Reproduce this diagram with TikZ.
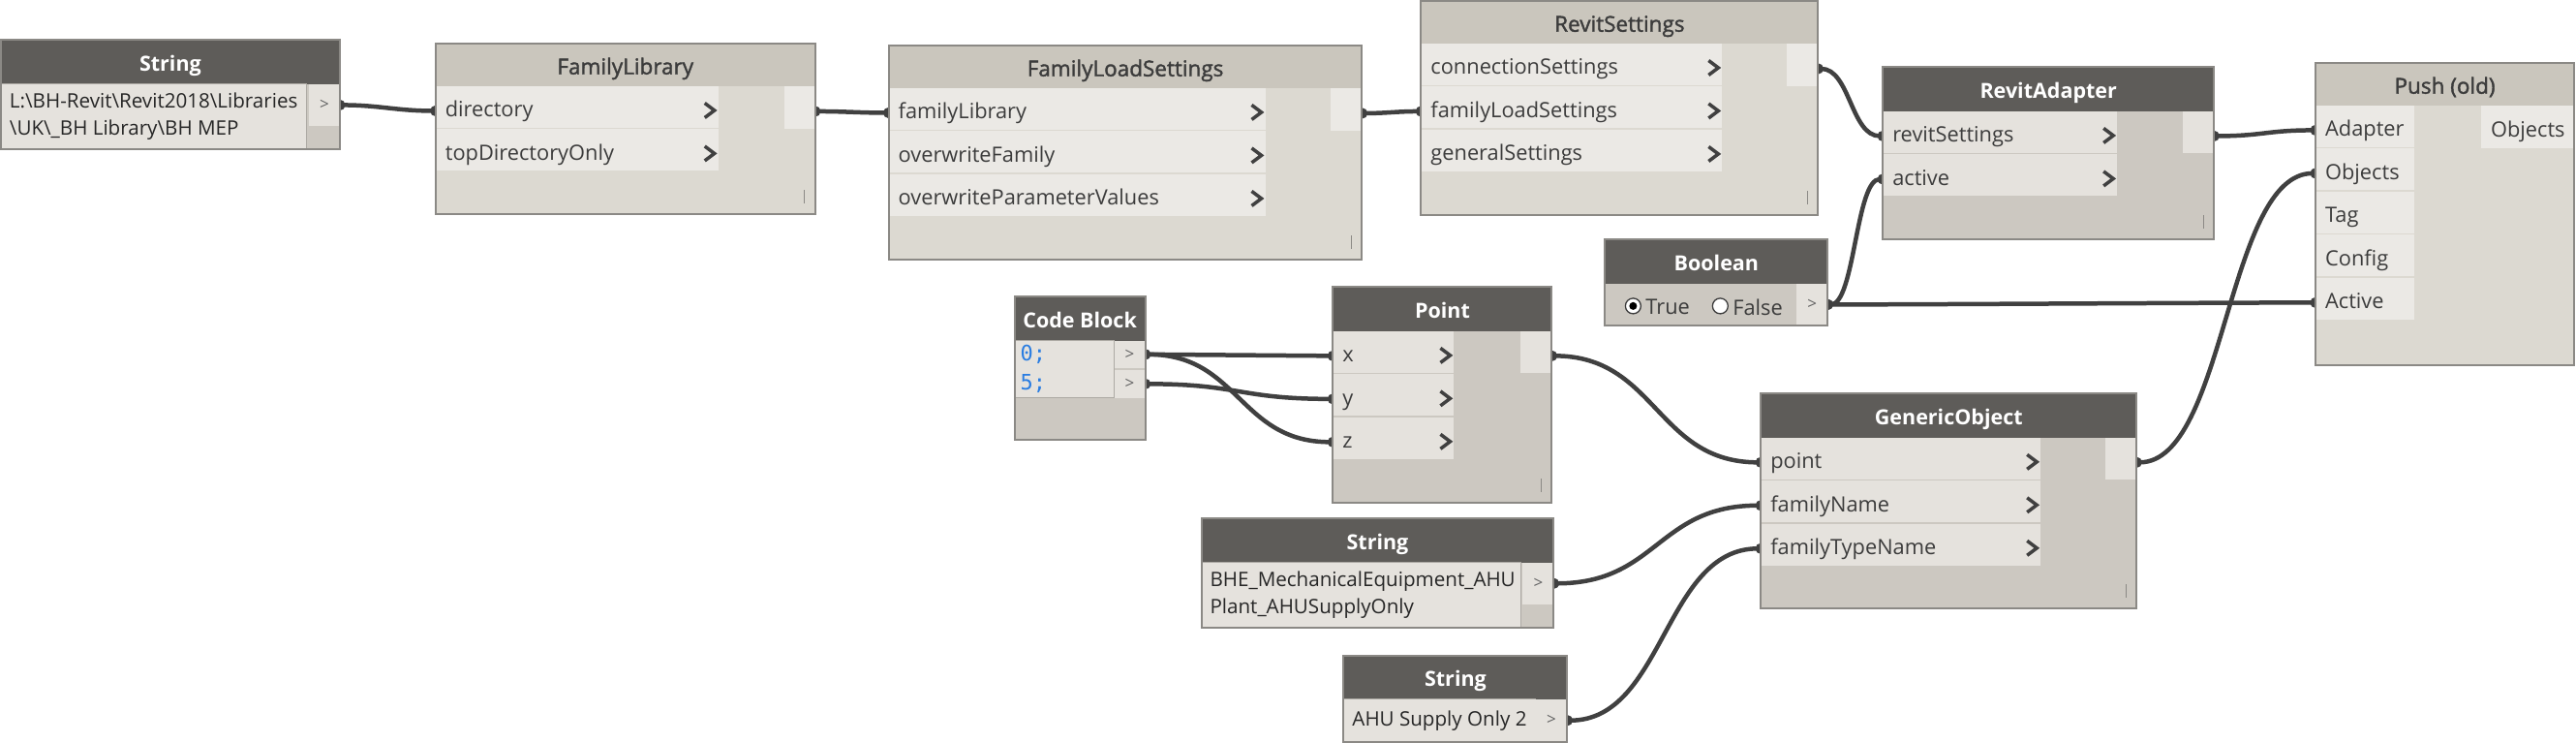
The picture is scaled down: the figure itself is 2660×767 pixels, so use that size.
\documentclass[tikz,border=0pt]{standalone}
\usepackage{fontspec}
\setmainfont{Open Sans}
\setmonofont{DejaVu Sans Mono}
\newfontfamily\semifont[FakeBold=1.6]{Open Sans}
\usetikzlibrary{positioning,arrows.meta}

\definecolor{hddark}{HTML}{5E5C59}
\definecolor{hdlight}{HTML}{CAC6BD}
\definecolor{bddark}{HTML}{CCC8C1}
\definecolor{bdlight}{HTML}{DCD9D1}
\definecolor{rwdark}{HTML}{E5E2DD}
\definecolor{rwlight}{HTML}{EBE9E5}
\definecolor{framec}{HTML}{8B8985}
\definecolor{wirec}{HTML}{404040}
\definecolor{txtc}{HTML}{3C3C3C}
\definecolor{codec}{HTML}{2A7DE1}

\newcommand{\headfont}{\fontsize{21.5}{25}\selectfont}
\newcommand{\lheadfont}{\fontsize{22.5}{26}\selectfont}
\newcommand{\portfont}{\fontsize{21.8}{25}\selectfont}
\newcommand{\strfont}{\fontsize{20.6}{28}\selectfont}
\newcommand{\gtfont}{\fontsize{17}{20}\selectfont}

\pgfdeclarelayer{bg}
\pgfsetlayers{bg,main}

\begin{document}
\begin{tikzpicture}[
        x=1pt, y=-1pt,
        every node/.style={inner sep=0pt, outer sep=0pt},
        bodyd/.style={fill=bddark, anchor=north west},
        bodyl/.style={fill=bdlight, anchor=north west},
        grip/.style={path picture={\draw[framec, line width=1pt]
            ([xshift=-11pt,yshift=11pt]path picture bounding box.south east) -- ++(0pt,14pt);}},
        headd/.style={fill=hddark, text=white, font=\headfont\bfseries, minimum height=46,
            text height=19pt, text depth=0pt, anchor=north west},
        headl/.style={fill=hdlight, text=txtc, font=\lheadfont\semifont, minimum height=44,
            text height=19.5pt, text depth=0pt, anchor=north west},
        chev/.style={path picture={\draw[wirec, line width=3.5pt]
            ([xshift=-14pt,yshift=4pt]path picture bounding box.east) -- ++(10pt,-7.5pt) -- ++(-10pt,-7.5pt);}},
        ind/.style={fill=rwdark, minimum width=#1, minimum height=43, chev},
        inl/.style={fill=rwlight, minimum width=#1, minimum height=43, chev},
        inp/.style={fill=rwlight, minimum width=102, minimum height=43},
        pl/.style={anchor=west, xshift=10pt, yshift=-5pt, text height=16pt, text depth=5pt,
            font=\portfont, text=txtc},
        outd/.style={fill=rwdark, minimum width=32, minimum height=43, anchor=north east, font=\gtfont, text=txtc!80},
        outl/.style={fill=rwlight, minimum width=32, minimum height=44, anchor=north east},
        txtarea/.style={fill=rwdark, draw=bddark!85!black, line width=1pt, anchor=north west},
        sl/.style={anchor=west, xshift=9pt, align=left, font=\strfont, text=black!85},
        radio/.style={circle, draw=txtc, fill=white, line width=1.3pt, minimum size=16},
        outline/.style={draw=framec, line width=2pt},
        link/.style={draw=wirec, line width=4.5pt, {Circle[length=11pt]}-{Circle[length=11pt]},
            shorten <=-5.5pt, shorten >=-5.5pt}
    ]

    % String (library path)
    \node[bodyd, minimum width=350, minimum height=113] (s1) at (0,41) {};
    \node[headd, minimum width=350] (s1-hd) at (s1.north west) {String};
    \node[txtarea, minimum width=316, minimum height=67,
        label={[sl]west:{L:\textbackslash BH-Revit\textbackslash Revit2018\textbackslash Libraries\\\textbackslash UK\textbackslash\_BH Library\textbackslash BH MEP}}]
        (s1-txt) at (s1-hd.south west) {};
    \node[outd] (s1-out) at (s1-hd.south east) {>};

    % FamilyLibrary
    \node[bodyl, grip, minimum width=392, minimum height=176] (fl) at (449,45) {};
    \node[headl, minimum width=392] (fl-hd) at (fl.north west) {FamilyLibrary};
    \node[inl=292, anchor=north west, label={[pl]west:directory}] (fl-dir) at (fl-hd.south west) {};
    \node[inl=292, below=1.5pt of fl-dir, label={[pl]west:topDirectoryOnly}] (fl-top) {};
    \node[outl] (fl-out) at (fl-hd.south east) {};

    % FamilyLoadSettings
    \node[bodyl, grip, minimum width=489, minimum height=221] (fls) at (917,47) {};
    \node[headl, minimum width=489] (fls-hd) at (fls.north west) {FamilyLoadSettings};
    \node[inl=389, anchor=north west, label={[pl]west:familyLibrary}] (fls-lib) at (fls-hd.south west) {};
    \node[inl=389, below=1.5pt of fls-lib, label={[pl]west:overwriteFamily}] (fls-fam) {};
    \node[inl=389, below=1.5pt of fls-fam, label={[pl]west:overwriteParameterValues}] (fls-par) {};
    \node[outl] (fls-out) at (fls-hd.south east) {};

    % RevitSettings
    \node[bodyl, grip, minimum width=410, minimum height=221] (rs) at (1467,1) {};
    \node[headl, minimum width=410] (rs-hd) at (rs.north west) {RevitSettings};
    \node[inl=311, anchor=north west, label={[pl]west:connectionSettings}] (rs-con) at (rs-hd.south west) {};
    \node[inl=311, below=1.5pt of rs-con, label={[pl]west:familyLoadSettings}] (rs-fls) {};
    \node[inl=311, below=1.5pt of rs-fls, label={[pl]west:generalSettings}] (rs-gen) {};
    \node[outl] (rs-out) at (rs-hd.south east) {};

    % RevitAdapter
    \node[bodyd, grip, minimum width=342, minimum height=178] (ra) at (1944,69) {};
    \node[headd, minimum width=342] (ra-hd) at (ra.north west) {RevitAdapter};
    \node[ind=242, anchor=north west, label={[pl]west:revitSettings}] (ra-rs) at (ra-hd.south west) {};
    \node[ind=242, below=1.5pt of ra-rs, label={[pl]west:active}] (ra-act) {};
    \node[outd] (ra-out) at (ra-hd.south east) {};

    % Push (old)
    \node[bodyl, minimum width=267, minimum height=312] (push) at (2391,65) {};
    \node[headl, minimum width=267] (push-hd) at (push.north west) {Push (old)};
    \node[inp, anchor=north west, label={[pl]west:Adapter}] (push-ad) at (push-hd.south west) {};
    \node[inp, below=1.5pt of push-ad, label={[pl]west:Objects}] (push-obj) {};
    \node[inp, below=1.5pt of push-obj, label={[pl]west:Tag}] (push-tag) {};
    \node[inp, below=1.5pt of push-tag, label={[pl]west:Config}] (push-cfg) {};
    \node[inp, below=1.5pt of push-cfg, label={[pl]west:Active}] (push-act) {};
    \node[outl, minimum width=96, label={[pl, xshift=0pt]west:Objects}] (push-out) at (push-hd.south east) {};

    % Boolean
    \node[bodyd, minimum width=230, minimum height=89] (bool) at (1657,247) {};
    \node[headd, minimum width=230] (bool-hd) at (bool.north west) {Boolean};
    \node[outd] (bool-out) at (bool-hd.south east) {>};
    \node[radio, label={[anchor=west, xshift=5pt, yshift=-1pt, font=\portfont, text=txtc]east:True}] (bool-t) at (1686,316) {};
    \node[circle, fill=black, minimum size=8] (bool-dot) at (bool-t) {};
    \node[radio, label={[anchor=west, xshift=5pt, yshift=-1pt, font=\portfont, text=txtc]east:False}] (bool-f) at (1776,316) {};

    % Code Block
    \node[bodyd, minimum width=135, minimum height=148] (cb) at (1047,306) {};
    \node[headd, minimum width=135] (cb-hd) at (cb.north west) {Code Block};
    \node[txtarea, minimum width=103, minimum height=59,
        label={[anchor=west, xshift=6pt, align=left, font=\ttfamily\fontsize{22}{30}\selectfont, text=codec]west:{0;\\5;}}]
        (cb-txt) at (cb-hd.south west) {};
    \node[outd, minimum height=28] (cb-o1) at (cb-hd.south east) {>};
    \node[outd, minimum height=29, below=2pt of cb-o1] (cb-o2) {>};

    % Point
    \node[bodyd, grip, minimum width=226, minimum height=223] (pt) at (1376,296) {};
    \node[headd, minimum width=226] (pt-hd) at (pt.north west) {Point};
    \node[ind=125, anchor=north west, label={[pl]west:x}] (pt-x) at (pt-hd.south west) {};
    \node[ind=125, below=1.5pt of pt-x, label={[pl]west:y}] (pt-y) {};
    \node[ind=125, below=1.5pt of pt-y, label={[pl]west:z}] (pt-z) {};
    \node[outd] (pt-out) at (pt-hd.south east) {};

    % GenericObject
    \node[bodyd, grip, minimum width=388, minimum height=222] (go) at (1818,406) {};
    \node[headd, minimum width=388] (go-hd) at (go.north west) {GenericObject};
    \node[ind=289, anchor=north west, label={[pl]west:point}] (go-pt) at (go-hd.south west) {};
    \node[ind=289, below=1.5pt of go-pt, label={[pl]west:familyName}] (go-fn) {};
    \node[ind=289, below=1.5pt of go-fn, label={[pl]west:familyTypeName}] (go-ftn) {};
    \node[outd] (go-out) at (go-hd.south east) {};

    % String (family name)
    \node[bodyd, minimum width=364, minimum height=113] (s2) at (1240,535) {};
    \node[headd, minimum width=364] (s2-hd) at (s2.north west) {String};
    \node[txtarea, minimum width=330, minimum height=67,
        label={[sl]west:{BHE\_MechanicalEquipment\_AHU\\Plant\_AHUSupplyOnly}}]
        (s2-txt) at (s2-hd.south west) {};
    \node[outd] (s2-out) at (s2-hd.south east) {>};

    % String (type name)
    \node[bodyd, minimum width=231, minimum height=89] (s3) at (1387,677) {};
    \node[headd, minimum width=231, minimum height=45] (s3-hd) at (s3.north west) {String};
    \node[txtarea, minimum width=198, minimum height=44, label={[sl]west:AHU Supply Only 2}]
        (s3-txt) at (s3-hd.south west) {};
    \node[outd, minimum width=33, minimum height=44] (s3-out) at (s3-hd.south east) {>};

    % node frames
    \foreach \n in {s1,fl,fls,rs,ra,push,bool,cb,pt,go,s2,s3}
        \draw[outline] (\n.north west) rectangle (\n.south east);

    % wires
    \begin{pgfonlayer}{bg}
        \path[fill=white, use as bounding box] (0,0) rectangle (2660,767);
        \draw[link] (s1-out.east) .. controls +(40,0) and +(-40,0) .. ([yshift=-4pt]fl-dir.west);
        \draw[link] ([yshift=-4pt]fl-out.east) .. controls +(30,0) and +(-30,0) .. ([yshift=-4pt]fls-lib.west);
        \draw[link] ([yshift=-4pt]fls-out.east) .. controls +(25,0) and +(-25,0) .. ([yshift=-4pt]rs-fls.west);
        \draw[link] ([yshift=-4pt]rs-out.east) .. controls +(33,0) and +(-33,0) .. ([yshift=-4pt]ra-rs.west);
        \draw[link] (bool-out.east) .. controls +(28,0) and +(-28,0) .. ([yshift=-4pt]ra-act.west);
        \draw[link] (bool-out.east) .. controls +(100,0) and +(-100,0) .. ([yshift=-4pt]push-act.west);
        \draw[link] ([yshift=-4pt]ra-out.east) .. controls +(50,0) and +(-50,0) .. ([yshift=-4pt]push-ad.west);
        \draw[link] ([yshift=-4pt]go-out.east) .. controls +(92,0) and +(-92,0) .. ([yshift=-4pt]push-obj.west);
        \draw[link] ([yshift=-4pt]pt-out.east) .. controls +(108,0) and +(-108,0) .. ([yshift=-4pt]go-pt.west);
        \draw[link] (cb-o1.east) .. controls +(97,0) and +(-97,0) .. ([yshift=-4pt]pt-x.west);
        \draw[link] (cb-o1.east) .. controls +(97,0) and +(-97,0) .. ([yshift=-4pt]pt-z.west);
        \draw[link] (cb-o2.east) .. controls +(97,0) and +(-97,0) .. ([yshift=-4pt]pt-y.west);
        \draw[link] (s2-out.east) .. controls +(107,0) and +(-107,0) .. ([yshift=-4pt]go-fn.west);
        \draw[link] (s3-out.east) .. controls +(100,0) and +(-100,0) .. ([yshift=-4pt]go-ftn.west);
    \end{pgfonlayer}

\end{tikzpicture}
\end{document}
